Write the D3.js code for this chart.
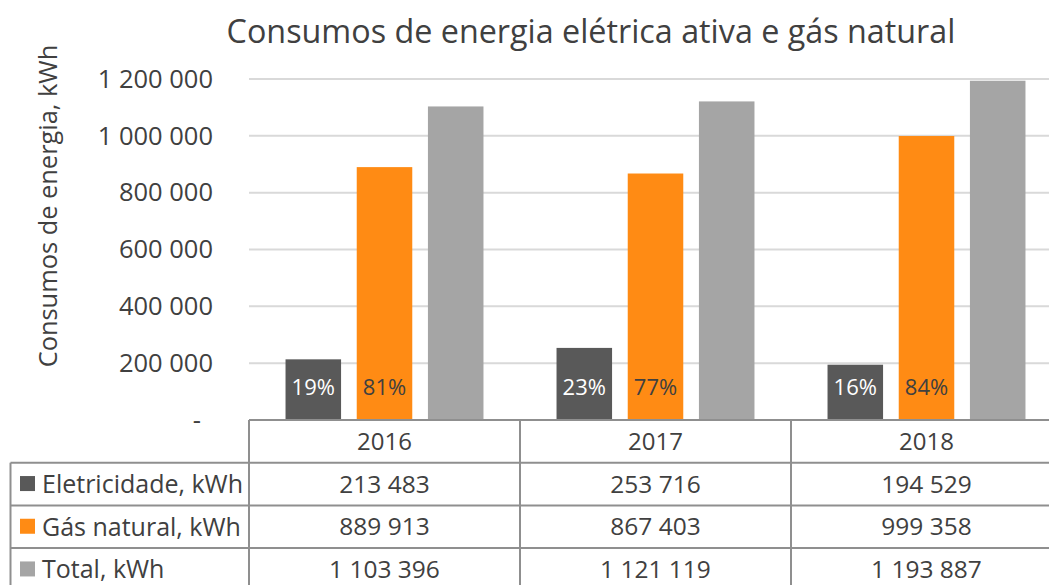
<!DOCTYPE html>
<html>
<head>
<meta charset="utf-8">
<script src="https://cdn.jsdelivr.net/npm/d3@7"></script>
<style>
  body { margin: 0; background: #fff; }
  svg { display: block; font-family: 'Open Sans', sans-serif; }
</style>
</head>
<body>
<div id="chart"></div>
<script>
// data
var years = ['2016', '2017', '2018'];
var seriesNames = ['Eletricidade, kWh', 'Gás natural, kWh', 'Total, kWh'];
var eletricidade = [213483, 253716, 194529];
var gasNatural = [889913, 867403, 999358];
var total = [1103396, 1121119, 1193887];
var yTicks = [0, 200000, 400000, 600000, 800000, 1000000, 1200000];

var colors = ['#595959', '#ff8b14', '#a5a5a5'];
var textColor = '#404040';
var lineColor = '#8f8f8f';

var width = 1049;
var height = 585;

// plot area
var plotLeft = 249;
var plotRight = 1062;
var plotTop = 79;
var plotBottom = 420;
var rowH = 42.7;

var fmt = d3.formatLocale({ decimal: ',', thousands: '\u00a0', grouping: [3], currency: ['', ''] }).format(',d');

var series = [eletricidade, gasNatural, total];

var svg = d3.select('#chart').append('svg')
    .attr('width', width)
    .attr('height', height);

var x0 = d3.scaleBand().domain(years).range([plotLeft, plotRight]).padding(0);
var x1 = d3.scaleBand().domain([0, 1, 2]).range([0, x0.bandwidth()])
    .paddingInner(0.22).paddingOuter(0.513);
var y = d3.scaleLinear().domain([0, 1200000]).range([plotBottom, plotTop]);

// title
svg.append('text')
    .attr('x', 591)
    .attr('y', 43)
    .attr('text-anchor', 'middle')
    .style('font-size', '32.3px')
    .style('fill', textColor)
    .text('Consumos de energia elétrica ativa e gás natural');

// y axis title
svg.append('text')
    .attr('transform', 'translate(57, 206) rotate(-90)')
    .attr('text-anchor', 'middle')
    .style('font-size', '25.4px')
    .style('fill', textColor)
    .text('Consumos de energia, kWh');

// gridlines
svg.append('g')
    .selectAll('line')
    .data(yTicks.filter(function (d) { return d > 0; }))
    .enter().append('line')
    .attr('x1', plotLeft)
    .attr('x2', plotRight)
    .attr('y1', function (d) { return y(d); })
    .attr('y2', function (d) { return y(d); })
    .attr('stroke', '#d9d9d9')
    .attr('stroke-width', 2);

// y axis labels
var yAxis = svg.append('g')
    .attr('transform', 'translate(' + (plotLeft - 36) + ',0)')
    .call(d3.axisLeft(y).tickValues(yTicks).tickSize(0).tickPadding(0)
        .tickFormat(function (d) { return d === 0 ? '-' : fmt(d); }));
yAxis.select('.domain').remove();
yAxis.selectAll('text')
    .style('font-family', "'Open Sans', sans-serif")
    .style('font-size', '25.5px')
    .style('fill', textColor)
    .attr('dx', function (d) { return d === 0 ? -12 : 0; });

// bars
var groups = svg.append('g')
    .selectAll('g')
    .data(years)
    .enter().append('g')
    .attr('transform', function (d) { return 'translate(' + x0(d) + ',0)'; });

groups.selectAll('rect')
    .data(function (d, i) { return series.map(function (s, k) { return { k: k, v: s[i] }; }); })
    .enter().append('rect')
    .attr('x', function (d) { return x1(d.k); })
    .attr('width', x1.bandwidth())
    .attr('y', function (d) { return y(d.v); })
    .attr('height', function (d) { return plotBottom - y(d.v); })
    .attr('fill', function (d) { return colors[d.k]; });

// share labels inside base
groups.selectAll('.pct')
    .data(function (d, i) {
        return [
            { k: 0, p: eletricidade[i] / total[i] },
            { k: 1, p: gasNatural[i] / total[i] }
        ];
    })
    .enter().append('text')
    .attr('class', 'pct')
    .attr('x', function (d) { return x1(d.k) + x1.bandwidth() / 2; })
    .attr('y', plotBottom - 25)
    .attr('text-anchor', 'middle')
    .style('font-size', '22px')
    .style('fill', function (d) { return d.k === 0 ? '#ffffff' : textColor; })
    .text(function (d) { return Math.round(d.p * 100) + '%'; });

// data table
var table = svg.append('g');
var tableLeft = 10.5;

// horizontal rules
var rules = [0, 1, 2, 3, 4].map(function (i) { return plotBottom + i * rowH; });
table.selectAll('.hr')
    .data(rules)
    .enter().append('line')
    .attr('x1', function (d, i) { return i === 0 ? plotLeft : tableLeft; })
    .attr('x2', plotRight)
    .attr('y1', function (d) { return d; })
    .attr('y2', function (d) { return d; })
    .attr('stroke', lineColor)
    .attr('stroke-width', 2);

// vertical rules
var cols = years.map(function (d) { return x0(d); }).concat([plotRight]);
table.selectAll('.vr')
    .data(cols)
    .enter().append('line')
    .attr('x1', function (d) { return d; })
    .attr('x2', function (d) { return d; })
    .attr('y1', plotBottom)
    .attr('y2', height + 10)
    .attr('stroke', lineColor)
    .attr('stroke-width', 2);
table.append('line')
    .attr('x1', tableLeft).attr('x2', tableLeft)
    .attr('y1', plotBottom + rowH).attr('y2', height + 10)
    .attr('stroke', lineColor)
    .attr('stroke-width', 2);

// year header
table.selectAll('.yr')
    .data(years)
    .enter().append('text')
    .attr('x', function (d) { return x0(d) + x0.bandwidth() / 2; })
    .attr('y', plotBottom + rowH / 2)
    .attr('dy', '0.35em')
    .attr('text-anchor', 'middle')
    .style('font-size', '24px')
    .style('fill', textColor)
    .text(function (d) { return d; });

// series rows
seriesNames.forEach(function (name, k) {
    var cy = plotBottom + rowH * (k + 1) + rowH / 2;
    table.append('rect')
        .attr('x', 20)
        .attr('y', cy - 8)
        .attr('width', 15)
        .attr('height', 15)
        .attr('fill', colors[k]);
    table.append('text')
        .attr('x', 42)
        .attr('y', cy)
        .attr('dy', '0.35em')
        .style('font-size', '25px')
        .style('fill', textColor)
        .text(name);
    table.selectAll('.v' + k)
        .data(series[k])
        .enter().append('text')
        .attr('x', function (d, i) { return x0(years[i]) + x0.bandwidth() / 2; })
        .attr('y', cy)
        .attr('dy', '0.35em')
        .attr('text-anchor', 'middle')
        .style('font-size', '24.5px')
        .style('fill', textColor)
        .text(function (d) { return fmt(d); });
});
</script>
</body>
</html>
